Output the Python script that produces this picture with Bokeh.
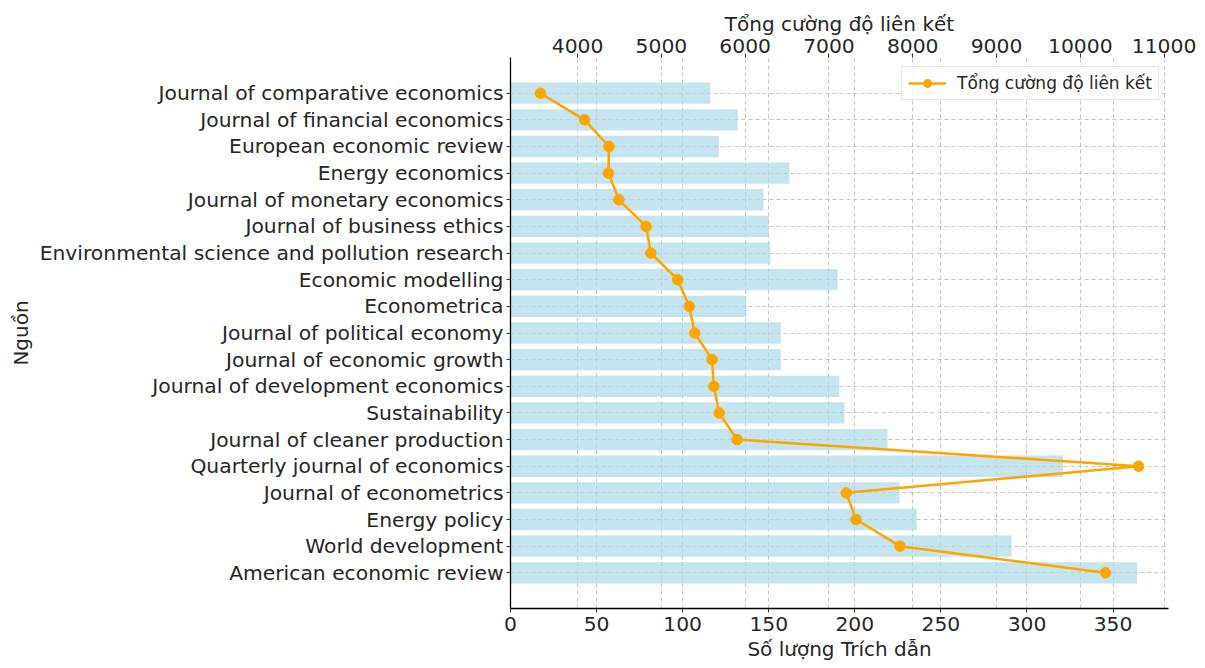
from bokeh.plotting import figure
from bokeh.models import Range1d, LinearAxis, FixedTicker, Grid
from bokeh.embed import file_html
from bokeh.resources import INLINE

sources = [
    "Journal of comparative economics",
    "Journal of financial economics",
    "European economic review",
    "Energy economics",
    "Journal of monetary economics",
    "Journal of business ethics",
    "Environmental science and pollution research",
    "Economic modelling",
    "Econometrica",
    "Journal of political economy",
    "Journal of economic growth",
    "Journal of development economics",
    "Sustainability",
    "Journal of cleaner production",
    "Quarterly journal of economics",
    "Journal of econometrics",
    "Energy policy",
    "World development",
    "American economic review",
]
citations = [116, 132, 121, 162, 147, 150, 151, 190, 137, 157, 157, 191, 194, 219, 321, 226, 236, 291, 364]
link_strength = [3556, 4083, 4374, 4368, 4493, 4818, 4874, 5195, 5333, 5398,
                 5605, 5626, 5690, 5904, 10696, 7206, 7324, 7847, 10302]
bottom_ticks = [0, 50, 100, 150, 200, 250, 300, 350]
top_ticks = [4000, 5000, 6000, 7000, 8000, 9000, 10000, 11000]

n = len(sources)
ypos = [n - 1 - i for i in range(n)]

FONT = "DejaVu Sans"
TXT = "#262626"

p = figure(width=1198, height=666, output_backend="svg", toolbar_location=None,
           x_range=Range1d(0, 382.2), y_range=Range1d(-1.34, 19.34),
           min_border_left=510, min_border_right=30, min_border_top=57, min_border_bottom=58)
p.extra_x_ranges = {"top": Range1d(3199, 11053)}
p.outline_line_color = None
p.background_fill_color = "white"

bottom_axis = p.below[0]
left_axis = p.left[0]

# bars
p.hbar(y=ypos, left=0, right=citations, height=0.8, fill_color="lightblue",
       fill_alpha=0.7, line_color=None)

# line
label = "Tổng cường độ liên kết"
p.line(x=link_strength, y=ypos, x_range_name="top", line_color="orange",
       line_width=2.5, legend_label=label)
p.scatter(x=link_strength, y=ypos, x_range_name="top", size=10.5, marker="circle",
          fill_color="orange", line_color="orange", legend_label=label)

# axes
top_axis = LinearAxis(x_range_name="top", ticker=FixedTicker(ticks=top_ticks),
                      axis_label="Tổng cường độ liên kết")
p.add_layout(top_axis, "above")

bottom_axis.ticker = FixedTicker(ticks=bottom_ticks)
bottom_axis.axis_label = "Số lượng Trích dẫn"
left_axis.ticker = FixedTicker(ticks=ypos)
left_axis.major_label_overrides = {y: s for y, s in zip(ypos, sources)}
left_axis.axis_label = "Nguồn"

for ax in [bottom_axis, left_axis, top_axis]:
    ax.major_label_text_font = FONT
    ax.major_label_text_font_size = "20.3px"
    ax.major_label_text_color = TXT
    ax.axis_label_text_font = FONT
    ax.axis_label_text_font_size = "20px"
    ax.axis_label_text_font_style = "normal"
    ax.axis_label_text_color = TXT
    ax.minor_tick_line_color = None
    ax.major_tick_in = 0
    ax.major_tick_out = 4
    ax.major_tick_line_color = "#333333"
    ax.axis_line_color = "black"
    ax.axis_line_width = 1.3

top_axis.axis_line_color = None
top_axis.major_label_standoff = 1
top_axis.axis_label_standoff = 0
left_axis.major_label_standoff = 3
left_axis.axis_label_standoff = 4
bottom_axis.major_label_standoff = 4
bottom_axis.axis_label_standoff = 3

# grids
p.xgrid[0].ticker = FixedTicker(ticks=bottom_ticks)
p.ygrid[0].ticker = FixedTicker(ticks=ypos)
for g in [p.xgrid[0], p.ygrid[0]]:
    g.grid_line_color = "#b8b8b8"
    g.grid_line_dash = "4 3"
    g.grid_line_width = 1
    g.grid_line_alpha = 0.8
top_grid = Grid(dimension=0, ticker=FixedTicker(ticks=top_ticks), x_range_name="top",
                grid_line_color="#b8b8b8", grid_line_dash="4 3", grid_line_width=1,
                grid_line_alpha=0.8)
p.add_layout(top_grid)

# legend
lg = p.legend[0]
lg.location = "top_right"
lg.label_text_font = FONT
lg.label_text_font_size = "17px"
lg.label_text_color = TXT
lg.border_line_color = "#cccccc"
lg.border_line_width = 1
lg.background_fill_alpha = 0.85
lg.margin = 9
lg.padding = 6
lg.glyph_width = 38
lg.label_standoff = 11

open("out.html", "w").write(file_html(p, INLINE))
